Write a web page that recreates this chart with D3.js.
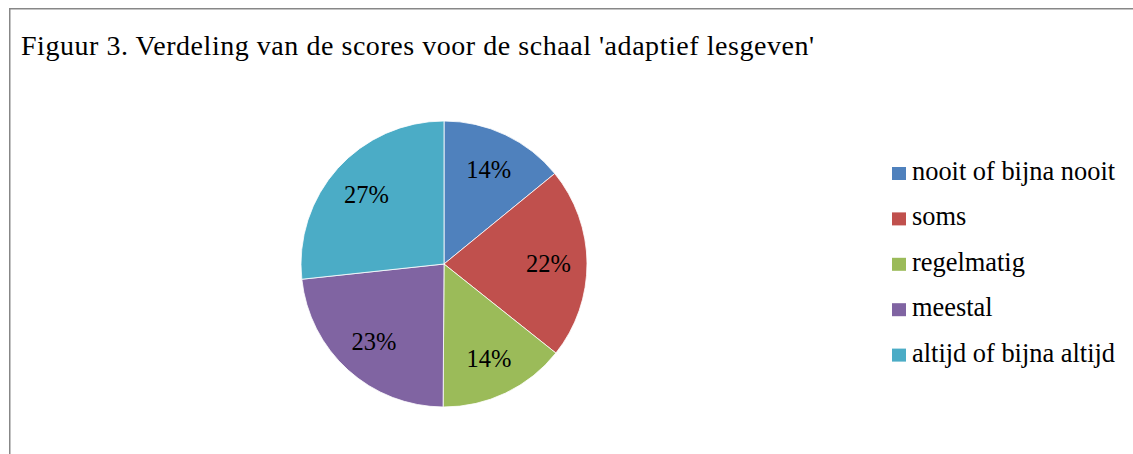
<!DOCTYPE html>
<html>
<head>
<meta charset="utf-8">
<script src="https://cdn.jsdelivr.net/npm/d3@7"></script>
</head>
<body style="margin:0; background:#fff">
<svg id="chart" width="1133" height="454"></svg>
<script>
// data
var categories = ['nooit of bijna nooit', 'soms', 'regelmatig', 'meestal', 'altijd of bijna altijd'];
var values = [14.1, 21.6, 14.4, 23.2, 26.7];
var colors = ['#4F81BD', '#C0504D', '#9BBB59', '#8064A2', '#4BACC6'];
var title = "Figuur 3. Verdeling van de scores voor de schaal 'adaptief lesgeven'";

var FONT = 'Liberation Serif';

var svg = d3.select('#chart');

// frame, runs off the right and bottom edge
svg.append('rect')
   .attr('x', 9.75)
   .attr('y', 8.75)
   .attr('width', 1200)
   .attr('height', 600)
   .attr('fill', '#fff')
   .attr('stroke', '#878787')
   .attr('stroke-width', 1.5);

svg.append('text')
   .attr('x', 21)
   .attr('y', 55)
   .attr('font-family', FONT)
   .attr('font-size', 28)
   .attr('textLength', 793)
   .attr('lengthAdjust', 'spacing')
   .attr('fill', '#000')
   .text(title);

var cx = 444, cy = 264, r = 143;

var pie = d3.pie().sort(null).value(function(d){ return d.v; });
var arc = d3.arc().innerRadius(0).outerRadius(r);
var labelArc = d3.arc().innerRadius(r * 0.73).outerRadius(r * 0.73);

var rows = categories.map(function(c, i){ return {name: c, v: values[i], color: colors[i]}; });
var total = d3.sum(values);

var g = svg.append('g').attr('transform', 'translate(' + cx + ',' + cy + ')');

g.selectAll('path.slice')
   .data(pie(rows))
   .enter().append('path')
   .attr('class', 'slice')
   .attr('d', arc)
   .attr('fill', function(d){ return d.data.color; })
   .attr('stroke', '#fff')
   .attr('stroke-width', 0.8);

g.selectAll('text.lbl')
   .data(pie(rows))
   .enter().append('text')
   .attr('class', 'lbl')
   .attr('transform', function(d){ return 'translate(' + labelArc.centroid(d) + ')'; })
   .attr('text-anchor', 'middle')
   .attr('dy', '0.35em')
   .attr('font-family', FONT)
   .attr('font-size', 24.5)
   .attr('fill', '#000')
   .text(function(d){ return Math.round(d.data.v / total * 100) + '%'; });

// legend
var ly = d3.scaleBand().domain(categories).range([150, 377]);
var leg = svg.append('g').selectAll('g')
   .data(rows)
   .enter().append('g')
   .attr('transform', function(d){ return 'translate(892,' + ly(d.name) + ')'; });

leg.append('rect')
   .attr('x', 0)
   .attr('y', 17)
   .attr('width', 14)
   .attr('height', 13)
   .attr('fill', function(d){ return d.color; });

leg.append('text')
   .attr('x', 20)
   .attr('y', 30)
   .attr('font-family', FONT)
   .attr('font-size', 26.4)
   .attr('fill', '#000')
   .text(function(d){ return d.name; });
</script>
</body>
</html>
